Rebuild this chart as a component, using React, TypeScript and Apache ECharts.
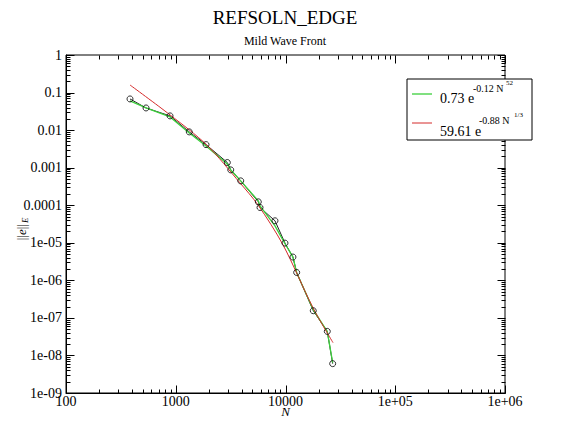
import React, { useEffect, useRef } from 'react';
import * as echarts from 'echarts';

const FONT = "'Liberation Serif', 'Times New Roman', serif";

// Data points (N, ||e||_E)
const N = [383, 536, 887, 1328, 1888, 2951, 3170, 3909, 5653, 5860, 8020, 9890, 11690, 12640, 17910, 24030, 26900];
const errorNorm = [0.0676, 0.0389, 0.0239, 0.00896, 0.00411, 0.00137, 0.000873, 0.000445, 0.000123, 8.7e-5, 3.85e-5, 9.8e-6, 4.17e-6, 1.62e-6, 1.55e-7, 4.37e-8, 6.05e-9];
// Green fit 0.73 e^{-0.12 N^.52} at the data N
const greenFit = [0.0598, 0.0389, 0.0225, 0.00843, 0.0038, 0.00126, 0.00087, 0.000445, 0.000131, 9.6e-5, 2.83e-5, 9.4e-6, 4.17e-6, 1.59e-6, 1.65e-7, 4.3e-8, 6.45e-9];
// Red fit 59.61 e^{-0.88 N^{1/3}}
const redN = [383, 887, 1914, 3846, 5611, 9480, 17790, 27100];
const redFit = [0.159, 0.0254, 0.00404, 0.000394, 1.02e-4, 8.85e-6, 1.87e-7, 2.19e-8];

const X_MIN = 100;
const X_MAX = 1e6;
const Y_MIN = 1e-9;
const Y_MAX = 1;
const X_DECADES = [2, 3, 4, 5];
const Y_DECADES = [-9, -8, -7, -6, -5, -4, -3, -2, -1];
const MULTS = [1, 2, 3, 4, 5, 6, 7, 8, 9];

function xLabel(v: number): string {
  const e = Math.round(Math.log10(v));
  if (e >= 5) return '1e+0' + e;
  return String(Math.round(v));
}
function yLabel(v: number): string {
  const e = Math.round(Math.log10(v));
  if (e === 0) return '1';
  if (e >= -4) return '0.' + '0'.repeat(-e - 1) + '1';
  return '1e-0' + -e;
}

export default function App() {
  const ref = useRef<HTMLDivElement>(null);
  useEffect(() => {
    const chart = echarts.init(ref.current!, null, { renderer: 'svg' });

    chart.setOption({
      animation: false,
      backgroundColor: '#fff',
      title: {
        text: 'REFSOLN_EDGE',
        subtext: 'Mild Wave Front',
        left: 'center',
        top: 3,
        itemGap: 8,
        textStyle: { fontFamily: FONT, fontSize: 19, fontWeight: 'normal', color: '#000' },
        subtextStyle: { fontFamily: FONT, fontSize: 12, color: '#000' },
      },
      grid: { left: 66, right: 65, top: 55, bottom: 30, outerBoundsMode: 'none', containLabel: false, show: true, borderColor: '#000', borderWidth: 1, backgroundColor: 'transparent' },
      xAxis: {
        type: 'log', logBase: 10, min: X_MIN, max: X_MAX,
        axisLine: { show: true, onZero: false, lineStyle: { color: '#000', width: 1 } },
        axisTick: { show: false },
        splitLine: { show: false },
        axisLabel: { color: '#000', fontFamily: FONT, fontSize: 14, margin: 1, formatter: xLabel },
        name: 'N', nameLocation: 'middle', nameGap: 12, nameMoveOverlap: false,
        nameTextStyle: { fontFamily: FONT, fontSize: 13, fontStyle: 'italic', color: '#000' },
      },
      yAxis: {
        type: 'log', logBase: 10, min: Y_MIN, max: Y_MAX,
        axisLine: { show: true, onZero: false, lineStyle: { color: '#000', width: 1 } },
        axisTick: { show: false },
        splitLine: { show: false },
        axisLabel: { color: '#000', fontFamily: FONT, fontSize: 14, margin: 4, formatter: yLabel },
      },
      series: [
        {
          type: 'line', data: N.map((n, i) => [n, errorNorm[i]]), symbol: 'none', z: 2,
          lineStyle: { color: '#222', width: 1 },
        },
        {
          type: 'line', data: N.map((n, i) => [n, greenFit[i]]), symbol: 'none', z: 3,
          lineStyle: { color: '#3ccf3c', width: 1.3 },
        },
        {
          type: 'line', data: redN.map((n, i) => [n, redFit[i]]), symbol: 'none', smooth: 0.3, z: 4,
          lineStyle: { color: '#d42a2a', width: 1 },
        },
        {
          type: 'scatter', data: N.map((n, i) => [n, errorNorm[i]]), symbol: 'circle', symbolSize: 6, z: 5,
          itemStyle: { color: 'rgba(0,0,0,0)', borderColor: '#000', borderWidth: 1 },
        },
      ],
    });

    // Tick marks placed through the chart's own log scales
    const toPx = (x: number, y: number) => chart.convertToPixel({ gridIndex: 0 }, [x, y]) as number[];
    const xTicks: [number, number][] = [];
    X_DECADES.forEach((e) => MULTS.forEach((m) => xTicks.push([m * Math.pow(10, e), m === 1 ? 8 : 4])));
    xTicks.push([X_MAX, 8]);
    const yTicks: [number, number][] = [];
    Y_DECADES.forEach((e) => MULTS.forEach((m) => yTicks.push([m * Math.pow(10, e), m === 1 ? 8 : 4])));
    yTicks.push([Y_MAX, 8]);

    const yBottom = Math.round(toPx(X_MIN, Y_MIN)[1]) + 0.5;
    const yTop = Math.round(toPx(X_MIN, Y_MAX)[1]) + 0.5;
    const xLeft = Math.round(toPx(X_MIN, Y_MIN)[0]) + 0.5;
    const xRight = Math.round(toPx(X_MAX, Y_MIN)[0]) + 0.5;

    const tickLines: any[] = [];
    xTicks.forEach(([v, len]) => {
      const x = Math.round(toPx(v, Y_MIN)[0]) + 0.5;
      tickLines.push({ type: 'line', shape: { x1: x, y1: yBottom, x2: x, y2: yBottom - len }, style: { stroke: '#000', lineWidth: 1 } });
      tickLines.push({ type: 'line', shape: { x1: x, y1: yTop, x2: x, y2: yTop + len }, style: { stroke: '#000', lineWidth: 1 } });
    });
    yTicks.forEach(([v, len]) => {
      const y = Math.round(toPx(X_MIN, v)[1]) + 0.5;
      tickLines.push({ type: 'line', shape: { x1: xLeft, y1: y, x2: xLeft + len, y2: y }, style: { stroke: '#000', lineWidth: 1 } });
      tickLines.push({ type: 'line', shape: { x1: xRight, y1: y, x2: xRight - len, y2: y }, style: { stroke: '#000', lineWidth: 1 } });
    });

    chart.setOption({
      graphic: [
        {
          type: 'group', id: 'ylabel', x: 21, y: 224, rotation: Math.PI / 2,
          children: [
            {
              type: 'text', x: 0, y: 0,
              style: {
                text: '{a|||}{i|e}{a|||}', align: 'right', verticalAlign: 'middle',
                rich: {
                  a: { fontFamily: FONT, fontSize: 13, fill: '#000' },
                  i: { fontFamily: FONT, fontSize: 13, fontStyle: 'italic', fill: '#000' },
                },
              },
            },
            {
              type: 'text', x: 1, y: 4,
              style: { text: 'E', fontFamily: FONT, fontSize: 9, fontStyle: 'italic', fill: '#000', align: 'left', verticalAlign: 'middle' },
            },
          ],
        },
        {
          type: 'group', id: 'legend',
          children: [
            ...tickLines,
            { type: 'rect', shape: { x: 407, y: 79, width: 125, height: 61 }, style: { fill: '#fff', stroke: '#000', lineWidth: 1 } },
            { type: 'line', shape: { x1: 412, y1: 94, x2: 432, y2: 94 }, style: { stroke: '#3ccf3c', lineWidth: 1.3 } },
            { type: 'text', x: 440, y: 98, style: { text: '0.73 e', fontFamily: FONT, fontSize: 14, fill: '#000', verticalAlign: 'middle' } },
            { type: 'text', x: 473, y: 88, style: { text: '-0.12 N', fontFamily: FONT, fontSize: 10, fill: '#000', verticalAlign: 'middle' } },
            { type: 'text', x: 506, y: 83, style: { text: '52', fontFamily: FONT, fontSize: 7, fill: '#000', verticalAlign: 'middle' } },
            { type: 'line', shape: { x1: 412, y1: 123, x2: 432, y2: 123 }, style: { stroke: '#d42a2a', lineWidth: 1 } },
            { type: 'text', x: 440, y: 131, style: { text: '59.61 e', fontFamily: FONT, fontSize: 14, fill: '#000', verticalAlign: 'middle' } },
            { type: 'text', x: 479, y: 120, style: { text: '-0.88 N', fontFamily: FONT, fontSize: 10, fill: '#000', verticalAlign: 'middle' } },
            { type: 'text', x: 514, y: 115, style: { text: '1/3', fontFamily: FONT, fontSize: 7, fill: '#000', verticalAlign: 'middle' } },
          ],
        },
      ],
    });
    return () => chart.dispose();
  }, []);
  return <div ref={ref} style={{ position: 'absolute', left: 0, top: 0, width: 570, height: 423 }} />;
}
